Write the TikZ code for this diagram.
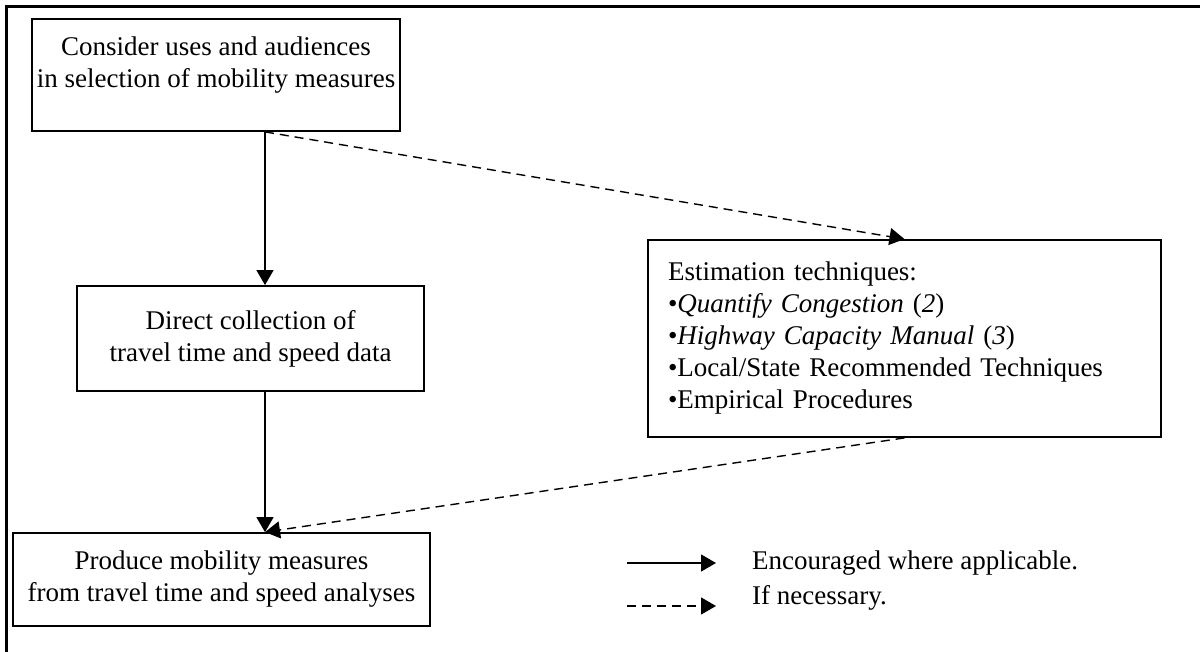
\documentclass[tikz,border=0pt]{standalone}
\usepackage{fontspec}
\setmainfont{Liberation Serif}
\usepackage{tikz}
\usetikzlibrary{arrows.meta}

\begin{document}
\begin{tikzpicture}[x=0.5pt,y=-0.5pt,
    box/.style={draw, line width=0.9pt, inner sep=0pt},
    txt/.style={align=center, font=\fontsize{13.5}{16}\selectfont},
    link/.style={line width=0.7pt, -{Triangle[length=7.5pt,width=8.5pt]}},
    maybe/.style={link, dash pattern=on 4.5pt off 3pt}]
    \useasboundingbox (0,0) rectangle (1200,652);
    % frame
    \draw[line width=1.1pt] (1200,6.5) -- (6.5,6.5) -- (6.5,652);

    \node[box, minimum width=184pt, minimum height=56pt] (consider) at (216,75) {};
    \node[txt] (considerTxt) at (216,65) {Consider uses and audiences\\in selection of mobility measures};

    \node[box, txt, minimum width=173.5pt, minimum height=52.5pt] (direct) at (250.5,338.5)
        {Direct collection of\\travel time and speed data};

    \node[box, txt, minimum width=208.5pt, minimum height=46.5pt] (produce) at (221.5,579.5)
        {Produce mobility measures\\from travel time and speed analyses};

    \node[box, txt, align=left, inner xsep=10pt, text width=236.5pt, minimum height=98.5pt] (estim) at (904.5,338.5)
        {Estimation techniques:\\
         •\textit{Quantify Congestion} (\textit{2})\\
         •\textit{Highway Capacity Manual} (\textit{3})\\
         •Local/State Recommended Techniques\\
         •Empirical Procedures};

    \coordinate (spine) at (265,0);
    \draw[link] (consider.south -| spine) -- (direct.north -| spine);
    \draw[link] (direct.south -| spine) -- (produce.north -| spine);
    \draw[maybe] (consider.south -| spine) -- (estim.north);
    \draw[maybe] (estim.south) -- (produce.north -| spine);

    % legend
    \coordinate (solidA) at (627,563);
    \coordinate (solidB) at (716,563);
    \coordinate (dashA) at (627,606);
    \coordinate (dashB) at (716,606);
    \draw[link] (solidA) -- (solidB);
    \draw[maybe] (dashA) -- (dashB);
    \node[txt, anchor=west] (solidTxt) at (745,563) {Encouraged where applicable.};
    \node[txt, anchor=west] (dashTxt) at (745,598) {If necessary.};
\end{tikzpicture}
\end{document}
